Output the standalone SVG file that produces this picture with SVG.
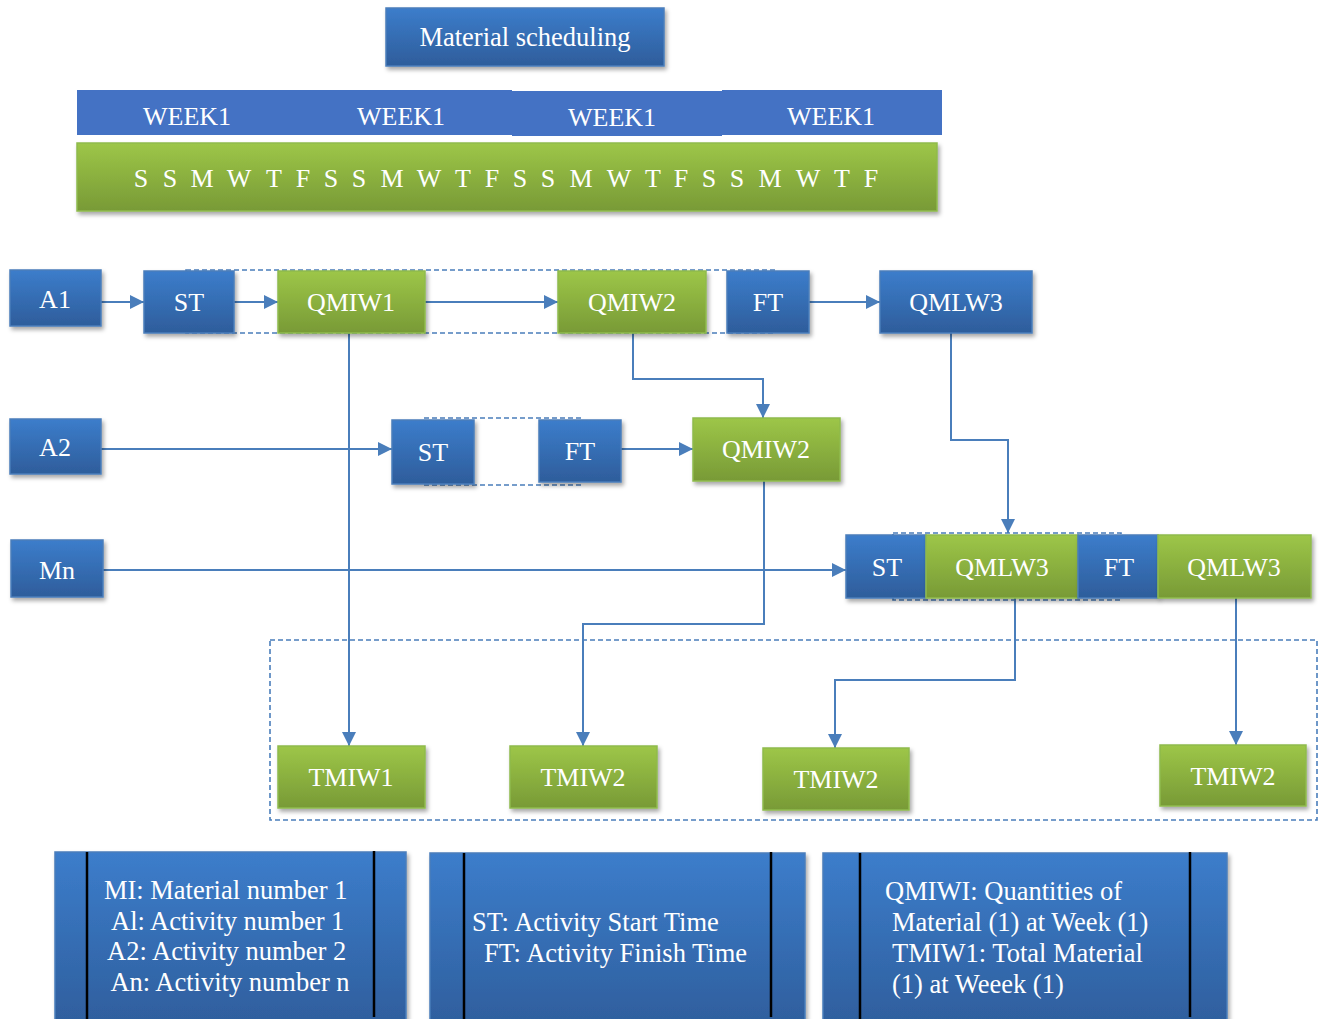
<svg xmlns="http://www.w3.org/2000/svg" width="1319" height="1019" viewBox="0 0 1319 1019">
  <defs>
    <linearGradient id="gBlue" x1="0" y1="0" x2="0" y2="1">
      <stop offset="0" stop-color="#3c7dcb"/>
      <stop offset="1" stop-color="#2e5d9b"/>
    </linearGradient>
    <linearGradient id="gGreen" x1="0" y1="0" x2="0" y2="1">
      <stop offset="0" stop-color="#9dc648"/>
      <stop offset="1" stop-color="#789a36"/>
    </linearGradient>
    <filter id="shadow" x="-10%" y="-20%" width="125%" height="150%">
      <feDropShadow dx="2" dy="3" stdDeviation="2.2" flood-color="#000" flood-opacity="0.35"/>
    </filter>
    <marker id="arrow" viewBox="0 0 10 10" refX="10" refY="5" markerWidth="16" markerHeight="14" markerUnits="userSpaceOnUse" orient="auto">
      <path d="M0,0 L10,5 L0,10 z" fill="#4a7ebb"/>
    </marker>
    <style>
      .blue { fill: url(#gBlue); stroke: #4a7ebb; stroke-width: 1.5; filter: url(#shadow); }
      .green { fill: url(#gGreen); stroke: #8fbb4c; stroke-width: 1.5; filter: url(#shadow); }
      .week { fill: #4472c4; }
      .lbl { font-family: "Liberation Serif", "Times New Roman", serif; font-size: 26px; fill: #ffffff; text-anchor: middle; dominant-baseline: central; }
      .title { font-size: 26.5px; }
      .leg { font-family: "Liberation Serif", "Times New Roman", serif; font-size: 26.5px; fill: #ffffff; }
      .dash { fill: none; stroke: #4a7ebb; stroke-width: 1.6; stroke-dasharray: 5 3; }
      .conn { fill: none; stroke: #4a7ebb; stroke-width: 2; }
      .bar { stroke: #000; stroke-width: 2.5; }
    </style>
  </defs>

  <rect width="1319" height="1019" fill="#ffffff"/>

  <!-- title -->
  <g id="title">
    <rect class="blue" x="386" y="8" width="278" height="58"/>
    <text class="lbl title" x="525" y="37">Material scheduling</text>
  </g>

  <!-- week header -->
  <g id="weeks">
    <rect class="week" x="77" y="90" width="435" height="45"/>
    <rect class="week" x="512" y="91" width="210" height="45"/>
    <rect class="week" x="722" y="90" width="220" height="45"/>
    <text class="lbl" x="187" y="116">WEEK1</text>
    <text class="lbl" x="401" y="116">WEEK1</text>
    <text class="lbl" x="612" y="117">WEEK1</text>
    <text class="lbl" x="831" y="116">WEEK1</text>
  </g>

  <!-- day bar -->
  <g id="days">
    <rect class="green" x="77" y="143" width="860" height="68"/>
    <text class="lbl" y="178" x="141 155 170 186 202 220 239 256 274 288 303 317 331 345 359 375 392 410 429 446 463 477 492 506 520 534 548 564 581 600 619 636 653 667 681 695 709 723 737 753 770 789 808 825 842 856 871">S S M W T F S S M W T F S S M W T F S S M W T F</text>
  </g>

  <!-- grouping frames -->
  <g id="frames">
    <rect class="dash" x="186" y="270" width="590" height="63"/>
    <rect class="dash" x="424" y="418" width="157" height="67"/>
    <rect class="dash" x="893" y="533" width="228" height="67"/>
    <rect class="dash" x="270" y="640" width="1047" height="180"/>
  </g>

  <!-- connectors -->
  <g id="connectors">
    <line class="conn" x1="101" y1="302" x2="144" y2="302" marker-end="url(#arrow)"/>
    <line class="conn" x1="234" y1="302" x2="278" y2="302" marker-end="url(#arrow)"/>
    <line class="conn" x1="425" y1="302" x2="558" y2="302" marker-end="url(#arrow)"/>
    <line class="conn" x1="809" y1="302" x2="880" y2="302" marker-end="url(#arrow)"/>
    <line class="conn" x1="101" y1="449" x2="392" y2="449" marker-end="url(#arrow)"/>
    <line class="conn" x1="621" y1="449" x2="693" y2="449" marker-end="url(#arrow)"/>
    <line class="conn" x1="103" y1="570" x2="846" y2="570" marker-end="url(#arrow)"/>
    <polyline class="conn" points="633,333 633,379 763,379 763,418" marker-end="url(#arrow)"/>
    <polyline class="conn" points="951,333 951,440 1008,440 1008,533" marker-end="url(#arrow)"/>
    <line class="conn" x1="349" y1="333" x2="349" y2="746" marker-end="url(#arrow)"/>
    <polyline class="conn" points="764,481 764,624 583,624 583,746" marker-end="url(#arrow)"/>
    <polyline class="conn" points="1015,598 1015,680 835,680 835,748" marker-end="url(#arrow)"/>
    <line class="conn" x1="1236" y1="598" x2="1236" y2="745" marker-end="url(#arrow)"/>
  </g>

  <!-- row A1 -->
  <g id="a1"><rect class="blue" x="10" y="270" width="91" height="56"/><text class="lbl" x="55" y="299">A1</text></g>
  <g id="a1-st"><rect class="blue" x="144" y="271" width="90" height="62"/><text class="lbl" x="189" y="302">ST</text></g>
  <g id="a1-qmiw1"><rect class="green" x="278" y="271" width="147" height="62"/><text class="lbl" x="351" y="302">QMIW1</text></g>
  <g id="a1-qmiw2"><rect class="green" x="558" y="271" width="148" height="62"/><text class="lbl" x="632" y="302">QMIW2</text></g>
  <g id="a1-ft"><rect class="blue" x="727" y="271" width="82" height="62"/><text class="lbl" x="768" y="302">FT</text></g>
  <g id="a1-qmlw3"><rect class="blue" x="880" y="271" width="152" height="62"/><text class="lbl" x="956" y="302">QMLW3</text></g>

  <!-- row A2 -->
  <g id="a2"><rect class="blue" x="10" y="419" width="91" height="55"/><text class="lbl" x="55" y="447">A2</text></g>
  <g id="a2-st"><rect class="blue" x="392" y="420" width="82" height="64"/><text class="lbl" x="433" y="452">ST</text></g>
  <g id="a2-ft"><rect class="blue" x="539" y="420" width="82" height="62"/><text class="lbl" x="580" y="451">FT</text></g>
  <g id="a2-qmiw2"><rect class="green" x="693" y="418" width="147" height="63"/><text class="lbl" x="766" y="449">QMIW2</text></g>

  <!-- row Mn -->
  <g id="mn"><rect class="blue" x="11" y="540" width="92" height="57"/><text class="lbl" x="57" y="570">Mn</text></g>
  <g id="mn-st"><rect class="blue" x="846" y="535" width="80" height="63"/><text class="lbl" x="887" y="567">ST</text></g>
  <g id="mn-qmlw3a"><rect class="green" x="926" y="535" width="152" height="63"/><text class="lbl" x="1002" y="567">QMLW3</text></g>
  <g id="mn-ft"><rect class="blue" x="1078" y="535" width="80" height="63"/><text class="lbl" x="1119" y="567">FT</text></g>
  <g id="mn-qmlw3b"><rect class="green" x="1158" y="535" width="153" height="63"/><text class="lbl" x="1234" y="567">QMLW3</text></g>

  <!-- totals -->
  <g id="tmiw1"><rect class="green" x="278" y="746" width="147" height="62"/><text class="lbl" x="351" y="777">TMIW1</text></g>
  <g id="tmiw2a"><rect class="green" x="510" y="746" width="147" height="62"/><text class="lbl" x="583" y="777">TMIW2</text></g>
  <g id="tmiw2b"><rect class="green" x="763" y="748" width="146" height="62"/><text class="lbl" x="836" y="779">TMIW2</text></g>
  <g id="tmiw2c"><rect class="green" x="1160" y="745" width="146" height="61"/><text class="lbl" x="1233" y="776">TMIW2</text></g>

  <!-- legend -->
  <g id="legend-ids">
    <rect class="blue" x="55" y="852" width="351" height="180"/>
    <line class="bar" x1="87" y1="852" x2="87" y2="1019"/>
    <line class="bar" x1="374" y1="851" x2="374" y2="1017"/>
    <text class="leg" text-anchor="middle">
      <tspan x="229" y="899">MI: Material number 1</tspan>
      <tspan x="231" y="930">Al: Activity number 1</tspan>
      <tspan x="230" y="960">A2: Activity number 2</tspan>
      <tspan x="230" y="991">An: Activity number n</tspan>
    </text>
  </g>
  <g id="legend-times">
    <rect class="blue" x="430" y="853" width="375" height="180"/>
    <line class="bar" x1="464" y1="853" x2="464" y2="1019"/>
    <line class="bar" x1="771" y1="852" x2="771" y2="1017"/>
    <text class="leg">
      <tspan x="472" y="931">ST: Activity Start Time</tspan>
      <tspan x="484" y="962">FT: Activity Finish Time</tspan>
    </text>
  </g>
  <g id="legend-quantities">
    <rect class="blue" x="823" y="853" width="404" height="180"/>
    <line class="bar" x1="860" y1="853" x2="860" y2="1019"/>
    <line class="bar" x1="1190" y1="852" x2="1190" y2="1017"/>
    <text class="leg">
      <tspan x="885" y="900">QMIWI: Quantities of</tspan>
      <tspan x="892" y="931">Material (1) at Week (1)</tspan>
      <tspan x="892" y="962">TMIW1: Total Material</tspan>
      <tspan x="892" y="993">(1) at Weeek (1)</tspan>
    </text>
  </g>
</svg>
